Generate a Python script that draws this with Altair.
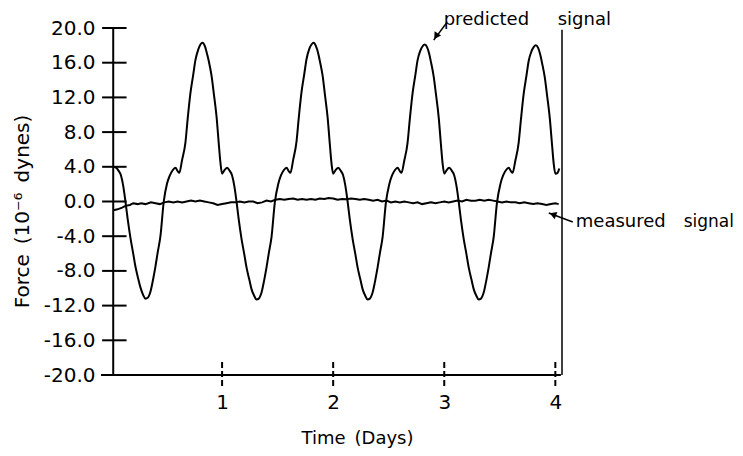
import altair as alt
import pandas as pd

# ---------------- data ----------------
# predicted signal (time in days, force in 1e-6 dynes)
pred_t = [0.02, 0.045, 0.07, 0.09, 0.11, 0.13, 0.15, 0.175, 0.20, 0.22, 0.245, 0.265, 0.29, 0.31, 0.33,
          0.355, 0.38, 0.40, 0.42, 0.445, 0.475, 0.505, 0.53, 0.555, 0.58, 0.60, 0.615, 0.64, 0.67, 0.69,
          0.715, 0.74, 0.76, 0.785, 0.805, 0.825, 0.845, 0.865, 0.88, 0.905, 0.925, 0.95, 0.97, 0.985,
          1.00, 1.02, 1.045, 1.07, 1.09, 1.11, 1.13, 1.15, 1.175, 1.20, 1.22, 1.245, 1.265, 1.29, 1.31,
          1.33, 1.355, 1.38, 1.40, 1.42, 1.445, 1.475, 1.505, 1.53, 1.555, 1.58, 1.60, 1.615, 1.64, 1.67,
          1.69, 1.715, 1.74, 1.76, 1.785, 1.805, 1.825, 1.845, 1.865, 1.88, 1.905, 1.925, 1.95, 1.97,
          1.985, 2.00, 2.02, 2.045, 2.07, 2.09, 2.11, 2.13, 2.15, 2.175, 2.20, 2.22, 2.245, 2.265, 2.29,
          2.31, 2.33, 2.355, 2.38, 2.40, 2.42, 2.445, 2.475, 2.505, 2.53, 2.555, 2.58, 2.60, 2.615, 2.64,
          2.67, 2.69, 2.715, 2.74, 2.76, 2.785, 2.805, 2.825, 2.845, 2.865, 2.88, 2.905, 2.925, 2.95,
          2.97, 2.985, 3.00, 3.02, 3.045, 3.07, 3.09, 3.11, 3.13, 3.15, 3.175, 3.20, 3.22, 3.245, 3.265,
          3.29, 3.31, 3.33, 3.355, 3.38, 3.40, 3.42, 3.445, 3.475, 3.505, 3.53, 3.555, 3.58, 3.60, 3.615,
          3.64, 3.67, 3.69, 3.715, 3.74, 3.76, 3.785, 3.805, 3.825, 3.845, 3.865, 3.88, 3.905, 3.925,
          3.95, 3.97, 3.985, 4.00, 4.02, 4.035]
pred_v = [4.0, 3.9, 3.5, 3.0, 1.8, 0.0, -2.0, -4.2, -6.0, -7.5, -8.9, -9.9, -10.8, -11.2, -11.1,
          -10.4, -8.9, -7.5, -5.9, -4.0, 0.0, 2.1, 3.0, 3.6, 3.9, 3.5, 3.3, 4.8, 6.8, 9.5,
          12.5, 14.6, 16.3, 17.5, 18.1, 18.3, 17.9, 17.0, 16.2, 14.5, 12.5, 9.8, 6.7, 4.5,
          3.2, 3.6, 3.9, 3.5, 3.0, 1.8, 0.0, -2.1, -4.3, -6.1, -7.6, -9.0, -10.1, -10.9, -11.3,
          -11.2, -10.5, -9.0, -7.6, -6.0, -4.1, -0.1, 2.0, 3.0, 3.6, 3.9, 3.5, 3.3, 4.8, 6.9,
          9.6, 12.6, 14.7, 16.4, 17.6, 18.1, 18.3, 17.9, 17.1, 16.2, 14.5, 12.4, 9.7, 6.6,
          4.4, 3.2, 3.6, 3.9, 3.5, 3.0, 1.8, 0.0, -2.1, -4.3, -6.1, -7.6, -9.0, -10.1, -10.9,
          -11.3, -11.2, -10.5, -9.0, -7.6, -6.0, -4.1, -0.1, 2.0, 3.0, 3.6, 3.9, 3.5, 3.3, 4.7,
          6.8, 9.5, 12.5, 14.6, 16.3, 17.4, 17.9, 18.1, 17.8, 17.0, 16.1, 14.4, 12.4, 9.7,
          6.6, 4.4, 3.2, 3.6, 3.9, 3.5, 3.0, 1.8, 0.0, -2.1, -4.3, -6.1, -7.6, -9.0, -10.1,
          -10.9, -11.3, -11.2, -10.5, -9.0, -7.6, -6.0, -4.1, -0.1, 2.0, 3.0, 3.6, 3.9, 3.5, 3.3,
          4.7, 6.8, 9.4, 12.4, 14.5, 16.2, 17.3, 17.8, 18.0, 17.7, 16.9, 16.0, 14.3, 12.3,
          9.6, 6.6, 4.4, 3.2, 3.3, 3.8]

# measured signal
meas_t = [0.02, 0.06, 0.10, 0.13, 0.17, 0.20, 0.24, 0.27, 0.31, 0.36, 0.40, 0.44, 0.48, 0.52, 0.56,
          0.60, 0.64, 0.68, 0.72, 0.76, 0.80, 0.84, 0.88, 0.92, 0.96, 1.00, 1.04, 1.08, 1.12, 1.16,
          1.20, 1.24, 1.28, 1.32, 1.36, 1.40, 1.44, 1.48, 1.52, 1.56, 1.60, 1.64, 1.68, 1.72, 1.76,
          1.80, 1.84, 1.88, 1.92, 1.96, 2.00, 2.04, 2.08, 2.12, 2.16, 2.20, 2.24, 2.28, 2.32, 2.36,
          2.40, 2.44, 2.48, 2.52, 2.56, 2.60, 2.64, 2.68, 2.72, 2.76, 2.80, 2.84, 2.88, 2.92, 2.96,
          3.00, 3.04, 3.08, 3.12, 3.16, 3.20, 3.24, 3.28, 3.32, 3.36, 3.40, 3.44, 3.48, 3.52, 3.56,
          3.60, 3.64, 3.68, 3.72, 3.76, 3.80, 3.84, 3.88, 3.92, 3.96, 4.00, 4.03]
meas_v = [-1.0, -0.9, -0.7, -0.5, -0.4, -0.2, -0.3, -0.2, -0.3, -0.1, -0.2, -0.3, -0.1, 0.0, -0.1,
          0.0, -0.1, 0.0, 0.1, 0.0, 0.1, 0.0, -0.1, -0.2, -0.4, -0.3, -0.2, -0.1, -0.1, 0.0,
          -0.1, 0.0, 0.0, -0.2, -0.1, 0.1, 0.0, 0.2, 0.3, 0.2, 0.3, 0.35, 0.2, 0.3, 0.2,
          0.3, 0.2, 0.35, 0.3, 0.4, 0.35, 0.2, 0.3, 0.25, 0.35, 0.3, 0.2, 0.3, 0.2, 0.1,
          0.2, 0.0, 0.1, -0.1, 0.0, -0.1, 0.0, -0.1, -0.2, -0.1, -0.3, -0.2, -0.1, -0.2, -0.1,
          0.0, -0.1, 0.0, 0.1, 0.0, 0.2, 0.1, 0.1, 0.2, 0.1, 0.2, 0.1, 0.0, -0.1, 0.0,
          -0.1, -0.1, -0.2, -0.1, -0.2, -0.3, -0.2, -0.3, -0.4, -0.3, -0.2, -0.3]

# axis tick values
y_ticks = [-20, -16, -12, -8, -4, 0, 4, 8, 12, 16, 20]
x_ticks = [1, 2, 3, 4]

# annotation texts
note_text = ["predicted", "signal", "measured"]
note_t = [2.995, 4.021, 4.184]
note_v = [20.35, 20.35, -2.95]
note2_text = ["signal"]
note2_t = [5.155]
note2_v = [-2.95]

# arrows: tail -> tip
arrow_t0 = [3.022, 4.157]
arrow_v0 = [20.6, -2.36]
arrow_t1 = [2.905, 3.941]
arrow_v1 = [18.6, -1.33]
head_t = [2.926, 3.978]
head_v = [19.05, -1.5]
head_angle = [213, 291]

# ---------------- chart ----------------
FONT = "DejaVu Sans"
xs = alt.Scale(domain=[0, 4.06], nice=False, zero=False)
ys = alt.Scale(domain=[-20, 20], nice=False, zero=False)

xaxis = alt.Axis(values=x_ticks, format="d", domain=False, ticks=False, grid=False,
                 labelFontSize=20, labelFont=FONT, labelColor="black", labelPadding=17,
                 title="Time\u2002(Days)", titleFont=FONT, titleFontSize=18, titleFontWeight="normal",
                 titleColor="black", titleX=246, titleY=63, titleAlign="center",
                 titleBaseline="middle")
yaxis = alt.Axis(values=y_ticks, domain=False, ticks=False, grid=False,
                 labelExpr="(datum.value < 0 ? '-' : '') + format(abs(datum.value), '.1f')",
                 labelFontSize=20, labelFont=FONT, labelColor="black", labelPadding=16,
                 labelBaseline="middle",
                 title="Force\u2002(10⁻⁶\u2002dynes)", titleFont=FONT, titleFontSize=20,
                 titleFontWeight="normal", titleColor="black", titleX=-89, titleY=183,
                 titleAngle=270, titleAlign="center", titleBaseline="middle")


def X(field):
    return alt.X(field, type="quantitative", scale=xs, axis=xaxis)


def Y(field):
    return alt.Y(field, type="quantitative", scale=ys, axis=yaxis)


pred_df = pd.DataFrame({"t": pred_t, "v": pred_v})
meas_df = pd.DataFrame({"t": meas_t, "v": meas_v})

pred = alt.Chart(pred_df).mark_line(color="black", strokeWidth=2, interpolate="monotone").encode(
    x=X("t"), y=Y("v"), order="t:Q")
meas = alt.Chart(meas_df).mark_line(color="black", strokeWidth=2).encode(
    x=X("t"), y=Y("v"), order="t:Q")

# axis lines
yline_df = pd.DataFrame({"x": [0.02], "y0": [-20.0], "y1": [20.0]})
yline = alt.Chart(yline_df).mark_rule(color="black", strokeWidth=2).encode(
    x=X("x"), y=Y("y0"), y2="y1")
xline_df = pd.DataFrame({"x0": [-0.09], "x1": [4.05], "y": [-20.0]})
xline = alt.Chart(xline_df).mark_rule(color="black", strokeWidth=2).encode(
    x=X("x0"), x2="x1", y=Y("y"))
rline_df = pd.DataFrame({"x": [4.06], "y0": [-20.0], "y1": [19.8]})
rline = alt.Chart(rline_df).mark_rule(color="black", strokeWidth=1.5).encode(
    x=X("x"), y=Y("y0"), y2="y1")

# tick marks
yt_df = pd.DataFrame({"x0": [-0.08] * len(y_ticks), "x1": [0.14] * len(y_ticks), "y": y_ticks})
ytick = alt.Chart(yt_df).mark_rule(color="black", strokeWidth=2).encode(
    x=X("x0"), x2="x1", y=Y("y"))
xt_df = pd.DataFrame({"x": x_ticks, "y0": [-18.5] * 4, "y1": [-21.5] * 4})
xtick = alt.Chart(xt_df).mark_rule(color="black", strokeWidth=2, strokeDash=[6, 3]).encode(
    x=X("x"), y=Y("y0"), y2="y1")

# annotations
note_df = pd.DataFrame({"t": note_t, "v": note_v, "txt": note_text})
notes = alt.Chart(note_df).mark_text(font=FONT, fontSize=18, align="left", baseline="alphabetic",
                                     color="black").encode(x=X("t"), y=Y("v"), text="txt:N")
note2_df = pd.DataFrame({"t": note2_t, "v": note2_v, "txt": note2_text})
notes2 = alt.Chart(note2_df).mark_text(font=FONT, fontSize=17, align="left", baseline="alphabetic",
                                       color="black").encode(x=X("t"), y=Y("v"), text="txt:N")
arr_df = pd.DataFrame({"t0": arrow_t0, "v0": arrow_v0, "t1": arrow_t1, "v1": arrow_v1})
arrows = alt.Chart(arr_df).mark_rule(color="black", strokeWidth=1.5).encode(
    x=X("t0"), y=Y("v0"), x2="t1", y2="v1")
head_df = pd.DataFrame({"t": head_t, "v": head_v, "a": head_angle})
heads = alt.Chart(head_df).mark_point(shape="triangle-up", filled=True, color="black",
                                      size=60, opacity=1).encode(
    x=X("t"), y=Y("v"), angle=alt.Angle("a:Q", scale=None))

chart = alt.layer(pred, meas, yline, xline, rline, ytick, xtick, notes, notes2, arrows,
                  heads).properties(
    width=451, height=347,
    autosize=alt.AutoSizeParams(type="none"),
    padding={"left": 103, "top": 20, "right": 173, "bottom": 73},
    background="white",
).configure_view(stroke=None)

chart.save("out.html", embed_options={"renderer": "svg", "actions": False})
